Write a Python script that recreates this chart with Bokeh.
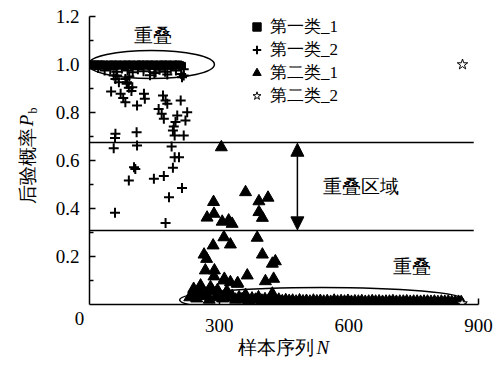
import math
from bokeh.plotting import figure
from bokeh.models import (FixedTicker, Label, Arrow, NormalHead, Legend, LegendItem,
                          NumeralTickFormatter, Range1d, GridBox)
from bokeh.embed import file_html
from bokeh.resources import INLINE

FONT = "Liberation Serif"

# ---------------- data ----------------
x_ticks = [300, 600, 900]
y_ticks = [0.2, 0.4, 0.6, 0.8, 1.0, 1.2]
y_minor = [0.1, 0.3, 0.5, 0.7, 0.9, 1.1]
series_names = ["第一类_1", "第一类_2", "第二类_1", "第二类_2"]

# class 1, part 1 (squares, near 1.0)
c1a_x = [0, 3, 6, 9, 12, 15, 18, 21, 24, 27,
         30, 34, 38, 42, 46, 50, 54, 58, 62, 66,
         70, 74, 78, 82, 86, 90, 94, 98, 102, 106,
         110, 114, 118, 122, 126, 130, 134, 138, 142, 146,
         150, 154, 158, 162, 166, 170, 174, 178, 182, 186,
         190, 194, 198, 202, 206, 210, 214]
c1a_y = [1.0, 0.998, 1.0, 0.996, 1.0, 0.999, 0.994, 1.0, 0.997, 1.0,
         0.995, 1.0, 0.998, 0.993, 1.0, 0.997, 1.0, 0.992, 0.999, 1.0,
         0.996, 0.998, 1.0, 0.994, 1.0, 0.997, 0.999, 1.0, 0.993, 0.998,
         1.0, 0.996, 1.0, 0.999, 0.995, 1.0, 0.997, 1.0, 0.994, 0.999,
         1.0, 0.996, 0.998, 1.0, 0.993, 1.0, 0.997, 0.999, 1.0, 0.995,
         0.998, 1.0, 0.996, 0.999, 1.0, 0.997, 0.994]

# class 1, part 2 (plus markers)
c1b_x = [20, 35, 48, 62, 75, 88, 100, 112, 125, 138,
         150, 162, 175, 188, 200, 212, 218, 92, 140, 180,
         56, 60, 68, 86, 91, 97, 64, 83, 87, 99,
         153, 214, 218, 50, 72, 78, 83, 110, 126, 128,
         170, 176, 180, 211, 160, 167, 172, 203, 226, 222,
         199, 195, 193, 218, 197, 60, 59, 109, 56, 110,
         190, 197, 207, 193, 103, 106, 91, 149, 172, 214,
         184, 59, 176]
c1b_y = [0.985, 0.975, 0.98, 0.97, 0.983, 0.975, 0.968, 0.98, 0.972, 0.985,
         0.965, 0.978, 0.97, 0.982, 0.975, 0.96, 0.98, 0.95, 0.955, 0.958,
         0.954, 0.94, 0.926, 0.92, 0.903, 0.89, 0.954, 0.94, 0.926, 0.905,
         0.968, 0.947, 0.954, 0.887, 0.878, 0.86, 0.843, 0.829, 0.878, 0.857,
         0.871, 0.85, 0.836, 0.85, 0.815, 0.795, 0.774, 0.788, 0.801, 0.767,
         0.76, 0.742, 0.725, 0.704, 0.704, 0.711, 0.694, 0.718, 0.651, 0.663,
         0.658, 0.614, 0.614, 0.57, 0.572, 0.565, 0.517, 0.524, 0.535, 0.485,
         0.447, 0.382, 0.34]

# class 2, part 1 (triangles)
c2a_x = [305, 361, 413, 392, 287, 288, 272, 307, 322, 330,
         392, 400, 311, 388, 286, 326, 265, 271, 400, 423,
         430, 289, 268, 288, 312, 326, 343, 365, 407, 426,
         423, 241, 257, 280, 311, 342, 296, 250, 318,
         232, 240, 248, 255, 262, 270, 277, 285, 292, 300,
         308, 315, 323, 330, 338, 346, 353, 361, 368, 376,
         384, 391, 399, 406, 414, 422, 430, 438, 446, 454,
         462, 470, 478, 486, 494, 502, 510, 518, 526, 534,
         542, 550, 558, 566, 574, 582, 590, 598, 606, 614,
         622, 630, 638, 646, 654, 662, 670, 678, 686, 694,
         702, 710, 718, 726, 734, 742, 750, 758, 766, 774,
         782, 790, 798, 806, 814, 822, 830, 838, 846, 854, 860]
c2a_y = [0.655, 0.468, 0.445, 0.43, 0.427, 0.378, 0.362, 0.345, 0.35, 0.336,
         0.385, 0.361, 0.28, 0.278, 0.246, 0.25, 0.208, 0.19, 0.208, 0.17,
         0.18, 0.142, 0.142, 0.117, 0.107, 0.093, 0.089, 0.121, 0.097, 0.107,
         0.045, 0.065, 0.079, 0.072, 0.1, 0.086, 0.06, 0.05, 0.055,
         0.03, 0.05, 0.025, 0.06, 0.035, 0.045, 0.02, 0.055, 0.03, 0.04,
         0.025, 0.045, 0.028, 0.035, 0.02, 0.03, 0.022, 0.04, 0.018, 0.025,
         0.02, 0.03, 0.016, 0.022, 0.017, 0.035, 0.015, 0.02, 0.014, 0.018,
         0.015, 0.016, 0.012, 0.017, 0.013, 0.015, 0.012, 0.016, 0.013, 0.015,
         0.012, 0.014, 0.011, 0.016, 0.012, 0.014, 0.012, 0.015, 0.011, 0.013,
         0.012, 0.014, 0.011, 0.012, 0.014, 0.012, 0.013, 0.011, 0.012, 0.012,
         0.014, 0.011, 0.012, 0.012, 0.013, 0.011, 0.012, 0.012, 0.011, 0.012,
         0.012, 0.011, 0.012, 0.01, 0.012, 0.011, 0.012, 0.01, 0.011, 0.011, 0.01]

# class 2, part 2 (stars)
c2b_x = [863, 862]
c2b_y = [1.0, 0.004]

# overlap annotations
band_upper = 0.675
band_lower = 0.308
line_end_x = 889
arrow_x = 481
ell_x = [143, 537]
ell_y = [1.0, 0.019]
ell_w = [292, 657]
ell_h = [0.117, 0.104]

W, H = 497, 366

# ---------------- main figure ----------------
p = figure(width=W, height=H, x_range=(0, 900), y_range=(0, 1.2),
           output_backend="svg", toolbar_location=None,
           min_border_left=89, min_border_right=19,
           min_border_top=16, min_border_bottom=62)
p.outline_line_color = None
p.grid.visible = False
p.background_fill_color = "white"
p.border_fill_color = "white"

for ax in (p.xaxis[0], p.yaxis[0]):
    ax.axis_line_color = "black"
    ax.axis_line_width = 1.5
    ax.major_tick_line_color = "black"
    ax.major_tick_line_width = 1.5
    ax.major_tick_in = 6
    ax.major_tick_out = 0
    ax.minor_tick_in = 4
    ax.minor_tick_out = 0
    ax.minor_tick_line_width = 1.5
    ax.minor_tick_line_color = "black"
    ax.major_label_text_font = FONT
    ax.major_label_text_font_size = "19px"
    ax.major_label_text_color = "black"

p.xaxis.ticker = FixedTicker(ticks=x_ticks)
p.xaxis.minor_tick_line_color = None
p.xaxis.formatter = NumeralTickFormatter(format="0")
p.xaxis.major_label_standoff = 14
p.yaxis.ticker = FixedTicker(ticks=y_ticks, minor_ticks=y_minor)
p.yaxis.formatter = NumeralTickFormatter(format="0.0")
p.yaxis.major_label_standoff = 10

# boundary lines and ellipses
p.segment(x0=[0, 0], y0=[band_upper, band_lower], x1=[line_end_x, line_end_x],
          y1=[band_upper, band_lower], line_color="black", line_width=1.5)
p.ellipse(x=ell_x, y=ell_y, width=ell_w, height=ell_h, fill_color=None,
          line_color="black", line_width=1.5)

r_sq = p.scatter(c1a_x, c1a_y, marker="square", size=7, color="black")
r_pl = p.scatter(c1b_x, c1b_y, marker="cross", size=10, line_color="black", line_width=2)
r_tr = p.scatter(c2a_x, c2a_y, marker="triangle", size=12, color="black")
r_st = p.scatter(c2b_x, c2b_y, marker="star", size=11, fill_color="white",
                 line_color="black", line_width=1)

p.add_layout(Arrow(start=NormalHead(size=13, fill_color="black", line_color="black"),
                   end=NormalHead(size=13, fill_color="black", line_color="black"),
                   x_start=arrow_x, y_start=band_upper - 0.003,
                   x_end=arrow_x, y_end=band_lower + 0.003,
                   line_color="black", line_width=1.5))


def lab(fig, x, y, text, size="19px", style="normal", angle=0.0, align="center"):
    fig.add_layout(Label(x=x, y=y, text=text, text_font=FONT, text_font_size=size,
                         text_font_style=style, text_align=align,
                         text_baseline="middle", angle=angle, text_color="black"))


lab(p, 148, 1.121, "重叠")
lab(p, 627, 0.492, "重叠区域")
lab(p, 745, 0.158, "重叠")

legend = Legend(items=[LegendItem(label=series_names[0], renderers=[r_sq]),
                       LegendItem(label=series_names[1], renderers=[r_pl]),
                       LegendItem(label=series_names[2], renderers=[r_tr]),
                       LegendItem(label=series_names[3], renderers=[r_st])],
                location=(157, 197), orientation="vertical")
legend.border_line_color = None
legend.background_fill_alpha = 0
legend.padding = 0
legend.margin = 0
legend.spacing = 0
legend.label_height = 21
legend.glyph_height = 21
legend.glyph_width = 21
legend.label_standoff = 3
legend.label_text_font = FONT
legend.label_text_font_size = "17px"
legend.label_text_color = "black"
p.add_layout(legend)

# ---------------- transparent overlay for the axis titles ----------------
ov = figure(width=W, height=H, x_range=Range1d(0, W), y_range=Range1d(H, 0),
            output_backend="svg", toolbar_location=None, min_border=0,
            min_border_left=0, min_border_right=0, min_border_top=0, min_border_bottom=0,
            x_axis_location=None, y_axis_location=None)
ov.outline_line_color = None
ov.grid.visible = False
ov.background_fill_alpha = 0
ov.border_fill_alpha = 0

for fig in (p, ov):
    if "frame_align" in fig.properties():
        fig.frame_align = False

lab(ov, 79, 318, "0")
lab(ov, 313, 347, "样本序列", align="right")
lab(ov, 316, 347, "N", style="italic", align="left")
lab(ov, 27, 165, "后验概率", angle=math.pi / 2)
lab(ov, 26, 120, "P", style="italic", angle=math.pi / 2)
lab(ov, 32, 110, "b", size="12px", angle=math.pi / 2)

grid = GridBox(children=[(p, 0, 0), (ov, 0, 0)], width=W, height=H)

open("out.html", "w").write(file_html(grid, INLINE))
